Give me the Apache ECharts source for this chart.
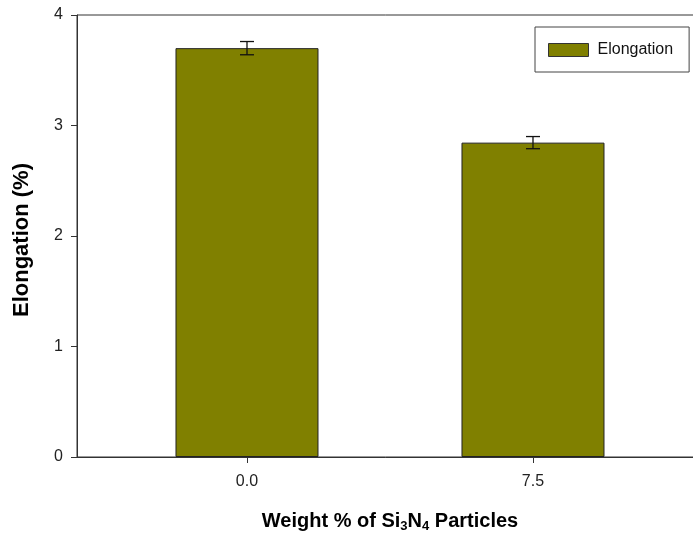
<!DOCTYPE html>
<html><head><meta charset="utf-8">
<script src="https://cdn.jsdelivr.net/npm/echarts@6/dist/echarts.min.js"></script>
<style>html,body{margin:0;padding:0;background:#fff}#c{width:693px;height:533px}</style>
</head><body><div id="c"></div>
<script>
const categories = [0.0, 7.5];
const elongation = [3.70, 2.845];
const errors = [0.06, 0.055];
const yTicks = [0, 1, 2, 3, 4];
const seriesName = 'Elongation';

const FONT = '"Liberation Sans", Arial, sans-serif';
const chart = echarts.init(document.getElementById('c'));
const barData = categories.map((c, i) => [c, elongation[i]]);
const errData = categories.map((c, i) => [c, elongation[i] - errors[i], elongation[i] + errors[i]]);

chart.setOption({
  animation: false,
  backgroundColor: '#fff',
  grid: { left: 77, top: 15, bottom: 76, right: -3, containLabel: false, outerBoundsMode: 'none', show: true, borderColor: '#333', borderWidth: 1, backgroundColor: 'transparent' },
  legend: {
    data: [{ name: seriesName, icon: 'rect' }],
    left: 535, top: 27,
    orient: 'vertical',
    borderColor: '#444', borderWidth: 1,
    padding: [15, 16, 14, 13],
    itemWidth: 40, itemHeight: 13,
    itemStyle: { borderColor: '#333', borderWidth: 1 },
    textStyle: { fontFamily: FONT, fontSize: 16, color: '#111', padding: [0, 0, 0, 4] }
  },
  xAxis: {
    type: 'value',
    min: -4.458, max: 11.775,
    axisLine: { show: true, onZero: false, lineStyle: { color: '#333', width: 1 } },
    axisTick: { show: true, length: 6, lineStyle: { color: '#333' }, customValues: categories },
    axisLabel: { show: true, customValues: categories, formatter: v => v.toFixed(1), fontFamily: FONT, fontSize: 16, color: '#222', margin: 17 },
    splitLine: { show: false },
    name: 'Weight % of Si{sub|3}N{sub|4} Particles',
    nameLocation: 'middle',
    nameGap: 53,
    nameTextStyle: {
      fontFamily: FONT, fontSize: 20, fontWeight: 'bold', color: '#000', padding: [0, 0, 0, 7],
      rich: { sub: { fontFamily: FONT, fontSize: 13, fontWeight: 'bold', color: '#000', padding: [10, 0, 0, 0] } }
    }
  },
  yAxis: {
    type: 'value',
    min: 0, max: 4, interval: 1,
    axisLine: { show: true, onZero: false, lineStyle: { color: '#333', width: 1 } },
    axisTick: { show: true, length: 6, lineStyle: { color: '#333' } },
    axisLabel: { fontFamily: FONT, fontSize: 16, color: '#222', margin: 14 },
    splitLine: { show: false },
    name: 'Elongation (%)',
    nameLocation: 'middle',
    nameGap: 44,
    nameTextStyle: { fontFamily: FONT, fontSize: 22, fontWeight: 'bold', color: '#000', padding: [0, 8, 0, 0] }
  },
  series: [
    {
      name: seriesName,
      type: 'bar',
      data: barData,
      barWidth: 143,
      itemStyle: { color: '#808000', borderColor: '#222', borderWidth: 1 }
    },
    {
      type: 'custom',
      name: 'err',
      data: errData,
      z: 5,
      renderItem: function (params, api) {
        const x = api.value(0);
        const lo = api.coord([x, api.value(1)]);
        const hi = api.coord([x, api.value(2)]);
        const hw = 7;
        const st = { stroke: '#111', lineWidth: 1.3 };
        return {
          type: 'group',
          children: [
            { type: 'line', shape: { x1: hi[0], y1: hi[1], x2: lo[0], y2: lo[1] }, style: st },
            { type: 'line', shape: { x1: hi[0] - hw, y1: hi[1], x2: hi[0] + hw, y2: hi[1] }, style: st },
            { type: 'line', shape: { x1: lo[0] - hw, y1: lo[1], x2: lo[0] + hw, y2: lo[1] }, style: st }
          ]
        };
      }
    }
  ]
});
</script></body></html>
